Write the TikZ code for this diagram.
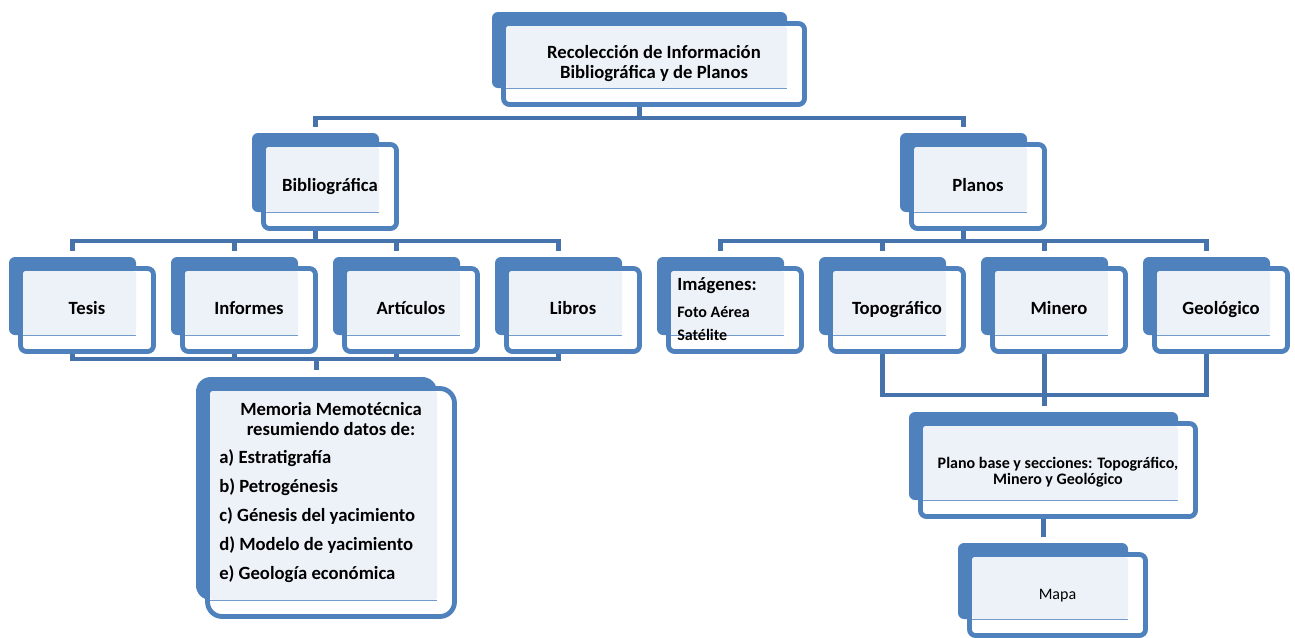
\documentclass[tikz,border=0pt]{standalone}
\usepackage{fontspec}
\setmainfont{Carlito}
\usetikzlibrary{fit,backgrounds}

\definecolor{boxblue}{HTML}{4F81BD}
\definecolor{linkblue}{HTML}{4673AC}
\definecolor{paleblue}{HTML}{EDF2F9}

\tikzset{
  corner/.style={rounded corners=4.5pt},
  backfill/.style={fill=boxblue, inner sep=0pt, corner},
  rim/.style={draw=boxblue, fill=white, line width=3.6pt, inner sep=0pt, corner},
  lbl/.style={font=\bfseries\fontsize{14}{15}\selectfont, align=center, text=black},
  one/.style={text height=10pt, text depth=3pt},
  conn/.style={draw=linkblue, line width=3.6pt}
}

\newcommand{\tierbox}[7]{%
  \node[backfill, fit={(#2,#3) (#4,#5)}] (#1b) {};
  \node[rim, fit={(#2+11.5,#3+11.5) (#4+17.5,#5+16.5)}] (#1) {};
  \fill[paleblue, rounded corners=2pt] (#2+14,#3+14) rectangle (#4,#5);
  \draw[boxblue!80, line width=0.5pt] (#2+14,#5) -- (#4,#5);
  \node[lbl, #6] at (#1.center) {#7};
}

\begin{document}
\begin{tikzpicture}[x=0.75pt, y=-0.75pt]
\useasboundingbox (0,0) rectangle (1295,637);

\tierbox{top}{492}{12}{787}{88}{}{Recolección de Información\\Bibliográfica y de Planos}
\tierbox{bib}{252}{133}{379}{212}{one}{Bibliográfica}
\tierbox{pla}{900}{133}{1027}{212}{one}{Planos}

\tierbox{tes}{9}{257}{136}{335}{one}{Tesis}
\tierbox{inf}{171}{257}{298}{335}{one}{Informes}
\tierbox{art}{333}{257}{460}{335}{one}{Artículos}
\tierbox{lib}{495}{257}{622}{335}{one}{Libros}
\tierbox{ima}{657}{257}{784}{335}{}{}
\tierbox{tpg}{819}{257}{946}{335}{one}{Topográfico}
\tierbox{min}{981}{257}{1108}{335}{one}{Minero}
\tierbox{geo}{1143}{257}{1270}{335}{one}{Geológico}

\node[lbl, align=left, anchor=west, inner sep=0pt, font=\bfseries\fontsize{14}{17.25}\selectfont] (imatxt) at (677,309) {Imágenes:\\[3pt]\fontsize{12}{14}\selectfont Foto Aérea\\\fontsize{12}{14}\selectfont Satélite};

\begin{scope}[corner/.style={rounded corners=11pt}]
\tierbox{mem}{196}{377}{437}{600}{}{}
\end{scope}
\node[lbl, anchor=north, inner sep=0pt] (memtitle) at (331,402) {Memoria Memotécnica\\resumiendo datos de:};
\node[lbl, align=left, anchor=north west, inner sep=0pt, font=\bfseries\fontsize{14}{21.75}\selectfont] (memlist) at (219,449) {a) Estratigrafía\\b) Petrogénesis\\c) Génesis del yacimiento\\d) Modelo de yacimiento\\e) Geología económica};

\tierbox{base}{909}{412}{1178}{500}{font=\bfseries\fontsize{12}{12}\selectfont, yshift=-1.5pt}{Plano base y secciones: Topográfico,\\Minero y Geológico}
\tierbox{map}{958}{543}{1128}{619}{one, font=\fontsize{12}{14}\selectfont}{Mapa}

\begin{scope}[on background layer]
\coordinate (busa) at (0,118);
\coordinate (busb) at (0,241);
\coordinate (busc) at (0,359);
\coordinate (busd) at (0,395);
\draw[conn] (topb.south) -- (topb.south |- busa);
\draw[conn, shorten >=4.5pt] (topb.south |- busa) -| (bibb.north);
\draw[conn, shorten >=4.5pt] (topb.south |- busa) -| (plab.north);
\draw[conn] (bibb.south) -- (bibb.south |- busb);
\draw[conn, shorten <=4.5pt, shorten >=4.5pt] (tesb.north) |- (libb.north |- busb) -- (libb.north);
\foreach \n in {infb, artb}
  \draw[conn, shorten >=4.5pt] (\n.north |- busb) -- (\n.north);
\draw[conn] (plab.south) -- (plab.south |- busb);
\draw[conn, shorten <=4.5pt, shorten >=4.5pt] (imab.north) |- (geob.north |- busb) -- (geob.north);
\foreach \n in {tpgb, minb}
  \draw[conn, shorten >=4.5pt] (\n.north |- busb) -- (\n.north);
\draw[conn] (tesb.south) |- (libb.south |- busc) -- (libb.south);
\foreach \n in {infb, artb}
  \draw[conn] (\n.south) -- (\n.south |- busc);
\draw[conn, shorten >=5pt] (memb.north |- busc) -- (memb.north);
\draw[conn] (tpgb.south) |- (geob.south |- busd) -- (geob.south);
\draw[conn, shorten >=4.5pt] (minb.south) -- (minb.south |- baseb.north);
\draw[conn, shorten >=4.5pt] (baseb.south) -- (baseb.south |- mapb.north);
\end{scope}
\end{tikzpicture}
\end{document}
